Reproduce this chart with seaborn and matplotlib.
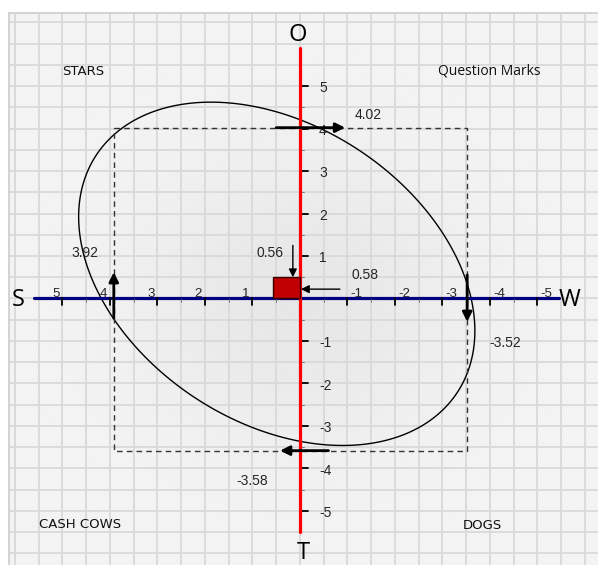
import numpy as np
import matplotlib.pyplot as plt
import seaborn as sns
from matplotlib.patches import Rectangle

# values on the four half-axes
s_val, w_val = 3.92, -3.52     # strengths (left) / weaknesses (right)
o_val, t_val = 4.02, -3.58     # opportunities (up) / threats (down)

# resulting position (small red square) and its labels
sq_w, sq_h = 0.56, 0.5
sq_lab_x, sq_lab_y = "0.56", "0.58"

x_ticks = [5, 4, 3, 2, 1, -1, -2, -3, -4, -5]
y_ticks = [5, 4, 3, 2, 1, -1, -2, -3, -4, -5]

# points
ell_x = [2.04, 4.72, 3.75, -0.06, 4.15, 3.31, 2.25, 0.91, -1.75, -2.95, -3.52, -3.64, -3.37, -0.99, 0.0]
ell_y = [4.55, 2.01, 4.04, 4.09, -0.01, -1.38, -2.15, -3.09, 3.26, 1.61, 0.04, -0.98, -2.15, -3.49, -3.40]

quad_names = ["STARS", "Question Marks", "CASH COWS", "DOGS"]
quad_x = [4.57, -3.98, 4.63, -3.83]
quad_y = [5.35, 5.35, -5.31, -5.33]

axis_names = ["O", "T", "S", "W"]
axis_x = [0.04, -0.06, 5.94, -5.68]
axis_y = [6.2, -5.99, -0.04, -0.04]

sns.set_theme(style="whitegrid", rc={"axes.facecolor": "#efefef",
                                     "grid.color": "#d9d9d9",
                                     "grid.linewidth": 1.3})
num_font = "Liberation Sans"
word_font = "Open Sans"

fig = plt.figure(figsize=(5.98, 5.65), dpi=100)
ax = fig.add_axes([9 / 598, 0, 589 / 598, 552 / 565])

xlim = (6.126, -6.274)
ylim = (-6.271, 6.718)

# soft grey shading behind the chart
gx, gy = np.meshgrid(np.linspace(xlim[1], xlim[0], 200), np.linspace(ylim[0], ylim[1], 200))
shade = 0.955 - 0.05 * np.exp(-(gx ** 2 + gy ** 2) / 12.0)
ax.imshow(shade, extent=(xlim[1], xlim[0], ylim[0], ylim[1]), origin="lower",
          cmap="gray", vmin=0, vmax=1, aspect="auto", zorder=0)

ax.set_xlim(*xlim)
ax.set_ylim(*ylim)
ax.set_xticks(np.arange(-6, 6.01, 0.5))
ax.set_yticks(np.arange(-6, 6.51, 0.5))
ax.tick_params(length=0, labelbottom=False, labelleft=False)
ax.grid(True)
for side in ["right", "bottom"]:
    ax.spines[side].set_visible(False)
for side in ["left", "top"]:
    ax.spines[side].set_color("#d0d0d0")
    ax.spines[side].set_linewidth(1.3)

# outline curve: conic fitted through the traced points
ex, ey = np.array(ell_x), np.array(ell_y)
A = np.column_stack([ex ** 2, ex * ey, ey ** 2, ex, ey])
coef = np.linalg.lstsq(A, np.ones_like(ex), rcond=None)[0]
X, Y = np.meshgrid(np.linspace(-6, 6, 600), np.linspace(-6, 6, 600))
F = coef[0] * X ** 2 + coef[1] * X * Y + coef[2] * Y ** 2 + coef[3] * X + coef[4] * Y
ax.contour(X, Y, F, levels=[1], colors="black", linewidths=1.0, zorder=3)

# dashed box
ax.plot([s_val, w_val, w_val, s_val, s_val], [o_val, o_val, t_val, t_val, o_val],
        ls=(0, (4, 3)), color="#333333", lw=1.0, zorder=3)

# main axes
ax.plot([5.6, -5.45], [0, 0], color="#000080", lw=2.3, zorder=4)
ax.plot([0, 0], [5.89, -5.49], color="red", lw=2.3, zorder=5)

# ticks on the horizontal axis
for v in x_ticks:
    ax.plot([v, v], [0, -7 / 42.5], color="black", lw=1.3, zorder=4)
    ax.plot([v - 0.5 * np.sign(v)] * 2, [-0.02, -4 / 42.5], color="#777777", lw=0.7, zorder=4)
    if v > 0:
        ax.text(v + 0.063, 0.04, str(v), ha="right", va="baseline", fontsize=9.5, family=num_font, zorder=6)
    else:
        ax.text(v - 0.063, 0.04, str(v), ha="left", va="baseline", fontsize=9.5, family=num_font, zorder=6)

# ticks on the vertical axis
for v in y_ticks:
    ax.plot([0, -8 / 47.5], [v, v], color="black", lw=1.3, zorder=4)
    ax.plot([-0.03, -4 / 47.5], [v - 0.5 * np.sign(v)] * 2, color="#777777", lw=0.7, zorder=4)
    ax.text(-0.4, v - 0.05, str(v), ha="left", va="center", fontsize=10, family=num_font, zorder=6)

# result square
ax.add_patch(Rectangle((0, 0), sq_w, sq_h, facecolor="#c00000", edgecolor="#3a0000", lw=1.0, zorder=6))

big = dict(arrowstyle="-|>", color="black", lw=2.0, mutation_scale=14, shrinkA=0, shrinkB=0)
small = dict(arrowstyle="-|>", color="black", lw=1.0, mutation_scale=12, shrinkA=0, shrinkB=0)

ax.annotate("", xy=(-0.95, o_val), xytext=(0.5, o_val), arrowprops=big, zorder=7)
ax.annotate("", xy=(s_val, 0.62), xytext=(s_val, -0.46), arrowprops=big, zorder=7)
ax.annotate("", xy=(w_val, -0.55), xytext=(w_val, 0.55), arrowprops=big, zorder=7)
ax.annotate("", xy=(0.42, t_val), xytext=(-0.6, t_val), arrowprops=big, zorder=7)
ax.annotate("", xy=(0.15, sq_h), xytext=(0.15, 1.25), arrowprops=small, zorder=7)
ax.annotate("", xy=(-0.02, 0.22), xytext=(-0.84, 0.22), arrowprops=small, zorder=7)

val_fs = 10
ax.text(-1.43, 4.32, f"{o_val:.2f}", ha="center", va="center", fontsize=val_fs, family=num_font)
ax.text(4.53, 1.07, f"{s_val:.2f}", ha="center", va="center", fontsize=val_fs, family=num_font)
ax.text(-4.32, -1.05, f"{w_val:.2f}", ha="center", va="center", fontsize=val_fs, family=num_font)
ax.text(1.01, -4.29, f"{t_val:.2f}", ha="center", va="center", fontsize=val_fs, family=num_font)
ax.text(0.63, 1.07, sq_lab_x, ha="center", va="center", fontsize=val_fs, family=num_font)
ax.text(-1.37, 0.55, sq_lab_y, ha="center", va="center", fontsize=val_fs, family=num_font)

for name, x, y in zip(quad_names, quad_x, quad_y):
    fam = word_font if name != name.upper() else "DejaVu Sans"
    ax.text(x, y, name, ha="center", va="center", fontsize=10 if fam == word_font else 9.5,
            family=fam, color="#111111")

for name, x, y in zip(axis_names, axis_x, axis_y):
    ax.text(x, y, name, ha="center", va="center", fontsize=17, family=word_font, color="black")

fig.savefig("out.png", dpi=100)
